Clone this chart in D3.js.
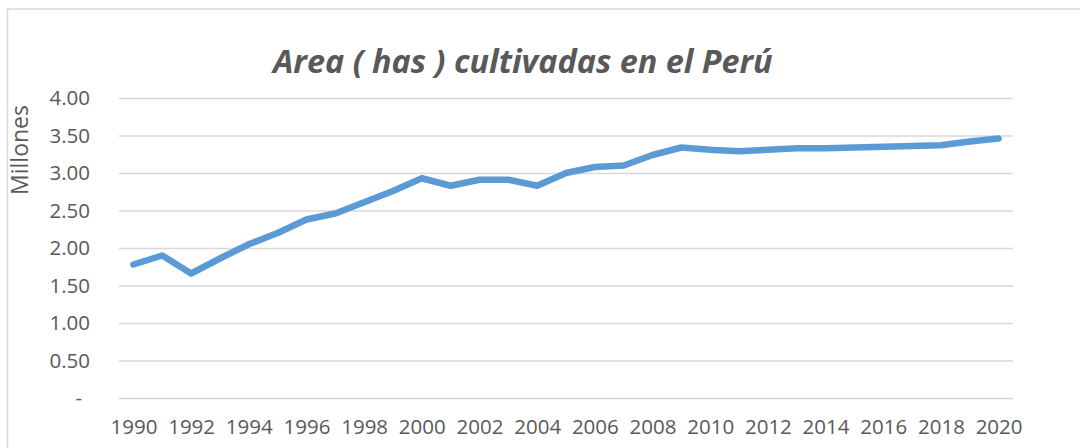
<!DOCTYPE html>
<html>
<head>
<meta charset="utf-8">
<script src="https://cdn.jsdelivr.net/npm/d3@7"></script>
<style>
    body { margin: 0; background: #ffffff; }
    svg { display: block; }
    .tick text { font-family: "Open Sans", sans-serif; fill: #595959; }
</style>
</head>
<body>
<script>
"use strict";
// data (millions of hectares)
const years = [1990, 1991, 1992, 1993, 1994, 1995, 1996, 1997, 1998, 1999,
    2000, 2001, 2002, 2003, 2004, 2005, 2006, 2007, 2008, 2009,
    2010, 2011, 2012, 2013, 2014, 2015, 2016, 2017, 2018, 2019, 2020];
const hectares = [1.78, 1.90, 1.66, 1.86, 2.05, 2.20, 2.38, 2.46, 2.61, 2.76,
    2.93, 2.83, 2.91, 2.91, 2.83, 3.00, 3.08, 3.10, 3.24, 3.34,
    3.31, 3.29, 3.31, 3.33, 3.33, 3.34, 3.35, 3.36, 3.37, 3.42, 3.46];
const yTicks = [0, 0.5, 1, 1.5, 2, 2.5, 3, 3.5, 4];
const xTickYears = [1990, 1992, 1994, 1996, 1998, 2000, 2002, 2004, 2006, 2008,
    2010, 2012, 2014, 2016, 2018, 2020];
const chartTitle = "Area ( has ) cultivadas en el Perú";
const yTitle = "Millones";

(function(){
    let svgContainer = "";

    const measurements = {
        width: 1080,
        height: 448,
        left: 119,
        right: 1013,
        top: 98,
        bottom: 398
    }

    window.onload = function() {
        svgContainer = d3.select('body').append("svg")
            .attr('width', measurements.width)
            .attr('height', measurements.height);

        // chart frame, runs off the right and bottom edge
        svgContainer.append('rect')
            .attr('x', 7.5)
            .attr('y', 9)
            .attr('width', 1200)
            .attr('height', 600)
            .attr('fill', 'none')
            .attr('stroke', '#d9d9d9')
            .attr('stroke-width', 1.5);

        makeChart();
    }

    function makeChart() {
        let scaleX = d3.scalePoint()
            .domain(years)
            .range([measurements.left, measurements.right])
            .padding(0.5);

        let scaleY = d3.scaleLinear()
            .domain([0, 4])
            .range([measurements.bottom, measurements.top]);

        drawAxes(scaleX, scaleY);
        plotData(scaleX, scaleY);
        makeLabels();
    }

    function drawAxes(scaleX, scaleY) {
        let yAxis = d3.axisLeft()
            .scale(scaleY)
            .tickValues(yTicks)
            .tickSize(-(measurements.right - measurements.left))
            .tickPadding(29)
            .tickFormat((d) => d === 0 ? "-" : d3.format(".2f")(d));

        let gy = svgContainer.append('g')
            .attr('transform', 'translate(' + measurements.left + ',0)')
            .call(yAxis);
        gy.select('.domain').remove();
        gy.selectAll('.tick line')
            .attr('stroke', '#d9d9d9')
            .attr('stroke-width', 1.5);
        gy.selectAll('.tick text')
            .style('font-size', '20.5px');
        // the dash for zero sits a bit left of the other labels' centre
        gy.selectAll('.tick text')
            .filter((d) => d === 0)
            .attr('x', -37);

        let xAxis = d3.axisBottom()
            .scale(scaleX)
            .tickValues(xTickYears)
            .tickSize(0)
            .tickPadding(21);

        let gx = svgContainer.append('g')
            .attr('transform', 'translate(0,' + measurements.bottom + ')')
            .call(xAxis);
        gx.select('.domain').remove();
        gx.selectAll('.tick text')
            .style('font-size', '20.5px');
    }

    function plotData(scaleX, scaleY) {
        const line = d3.line()
            .x((d, i) => scaleX(years[i]))
            .y((d) => scaleY(d));

        svgContainer.append('path')
            .datum(hectares)
            .attr('d', line)
            .attr('fill', 'none')
            .attr('stroke', '#5b9bd5')
            .attr('stroke-width', 6.5)
            .attr('stroke-linecap', 'round')
            .attr('stroke-linejoin', 'round');
    }

    function makeLabels() {
        let title = svgContainer.append('text')
            .attr('x', 273)
            .attr('y', 73)
            .style('font-family', '"Open Sans", sans-serif')
            .style('font-weight', 'bold')
            .style('font-style', 'italic')
            .style('font-size', '30px')
            .style('fill', '#595959')
            .text(chartTitle);
        // squeeze to the width the title has in the picture
        let w = title.node().getComputedTextLength();
        title.style('font-size', (30 * 500 / w) + 'px');

        svgContainer.append('text')
            .attr('transform', 'translate(28, 150)rotate(-90)')
            .attr('text-anchor', 'middle')
            .style('font-family', '"Open Sans", sans-serif')
            .style('font-size', '23px')
            .style('fill', '#595959')
            .text(yTitle);
    }
})()
</script>
</body>
</html>
